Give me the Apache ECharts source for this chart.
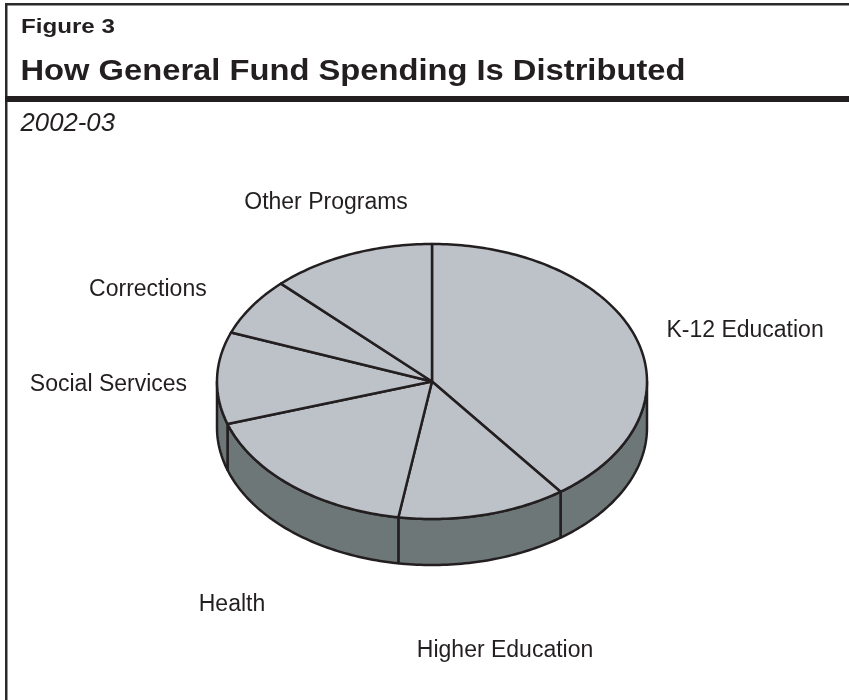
<!DOCTYPE html>
<html><head><meta charset="utf-8">
<script src="https://cdn.jsdelivr.net/npm/echarts@6/dist/echarts.min.js"></script>
<style>html,body{margin:0;padding:0;background:#fff}#c{width:849px;height:700px}</style>
</head><body><div id="c"></div>
<script>
// ---- data ----
const categories = ['K-12 Education', 'Higher Education', 'Health', 'Social Services', 'Corrections', 'Other Programs'];
const shares = [39.8, 12.7, 17.5, 10.8, 6.8, 12.4];
const figureLabel = 'Figure 3';
const titleText = 'How General Fund Spending Is Distributed';
const subtitleText = '2002-03';

// ---- style / geometry ----
const CX = 432, CY = 381.5, RX = 215, RY = 137.5, DEPTH = 46;
// label placement: [horizontal gap, vertical gap, extra vertical nudge]
const labelGap = [[32, 23, 0], [90, 92, 0], [93, 96, 0], [30, 30, 7], [54, 30, 0], [64, 56, 0]];
const TOP_FILL = '#BDC1C8', SIDE_FILL = '#6E7778', EDGE = '#231F20';
const FONT = "'Liberation Sans', Arial, Helvetica, sans-serif";

const total = shares.reduce((a, b) => a + b, 0);
const cum = [];
shares.reduce((s, v, i) => { cum[i] = s; return s + v; }, 0);

function angleOf(v) { return -Math.PI / 2 + v / total * Math.PI * 2; }
function pt(t, dy) { return [CX + RX * Math.cos(t), CY + RY * Math.sin(t) + (dy || 0)]; }
function arc(a0, a1, dy) {
  const pts = [];
  const n = Math.max(2, Math.ceil(Math.abs(a1 - a0) / (Math.PI / 180)));
  for (let k = 0; k <= n; k++) pts.push(pt(a0 + (a1 - a0) * k / n, dy));
  return pts;
}

function renderSide(params, api) {
  const i = params.dataIndex;
  const a0 = angleOf(cum[i]), a1 = angleOf(cum[i] + api.value(0));
  const lo = Math.max(a0, 0), hi = Math.min(a1, Math.PI);
  if (hi <= lo) return null;
  const pts = arc(lo, hi, 0).concat(arc(hi, lo, DEPTH));
  return {
    type: 'polygon', shape: { points: pts },
    style: { fill: SIDE_FILL, stroke: EDGE, lineWidth: 2.5, lineJoin: 'round' }
  };
}

function renderTop(params, api) {
  const i = params.dataIndex;
  const a0 = angleOf(cum[i]), a1 = angleOf(cum[i] + api.value(0));
  const pts = [[CX, CY]].concat(arc(a0, a1, 0));
  const mid = (a0 + a1) / 2;
  const c = Math.cos(mid), s = Math.sin(mid);
  const g = labelGap[i];
  const lx = CX + (RX + g[0]) * c;
  const ly = CY + (RY + g[1]) * s + (s > 0 ? DEPTH : 0) + g[2];
  const al = Math.abs(c) > 0.8 ? (c > 0 ? 'left' : 'right') : 'center';
  return {
    type: 'group',
    children: [
      { type: 'polygon', shape: { points: pts },
        style: { fill: TOP_FILL, stroke: EDGE, lineWidth: 2.5, lineJoin: 'round' } },
      { type: 'text', x: lx, y: ly,
        style: { text: categories[i], font: '23px ' + FONT, fill: '#231F20',
                 align: al, verticalAlign: 'middle', textAlign: al, textVerticalAlign: 'middle' } }
    ]
  };
}

const chart = echarts.init(document.getElementById('c'), null, { renderer: 'canvas' });
const seriesData = shares.map((v, i) => ({ name: categories[i], value: v }));

chart.setOption({
  animation: false,
  backgroundColor: '#fff',
  graphic: [
    { type: 'rect', shape: { x: 5, y: 3, width: 844, height: 2.5 }, style: { fill: '#2a2a2a' } },
    { type: 'rect', shape: { x: 5, y: 3, width: 2.5, height: 697 }, style: { fill: '#2a2a2a' } },
    { type: 'rect', shape: { x: 5, y: 96, width: 844, height: 6 }, style: { fill: '#231F20' } },
    { type: 'text', x: 21, y: 27.5, scaleX: 1.15,
      style: { text: figureLabel, font: 'bold 21px ' + FONT, fill: '#231F20',
               align: 'left', verticalAlign: 'middle', textAlign: 'left', textVerticalAlign: 'middle' } },
    { type: 'text', x: 20.5, y: 72, scaleX: 1.09,
      style: { text: titleText, font: 'bold 30px ' + FONT, fill: '#231F20',
               align: 'left', verticalAlign: 'middle', textAlign: 'left', textVerticalAlign: 'middle' } },
    { type: 'text', x: 20.5, y: 124, scaleX: 1.03,
      style: { text: subtitleText, font: 'italic 25px ' + FONT, fill: '#231F20',
               align: 'left', verticalAlign: 'middle', textAlign: 'left', textVerticalAlign: 'middle' } }
  ],
  series: [
    { type: 'custom', coordinateSystem: 'none', silent: true, z: 1,
      renderItem: renderSide, data: seriesData },
    { type: 'custom', coordinateSystem: 'none', silent: true, z: 2,
      renderItem: renderTop, data: seriesData }
  ]
});
</script>
</body></html>
